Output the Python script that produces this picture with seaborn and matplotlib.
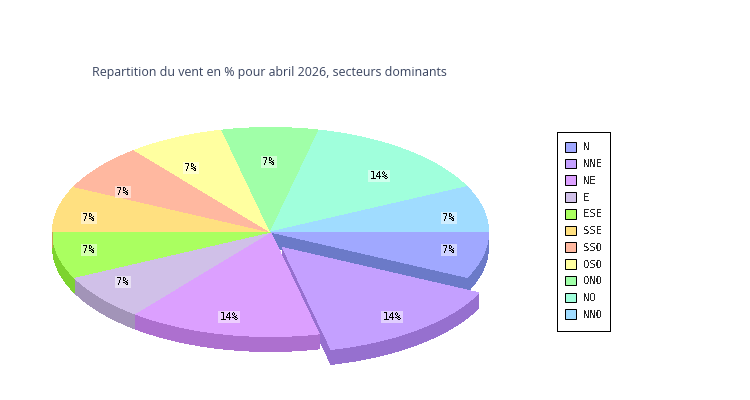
import numpy as np
import matplotlib
matplotlib.use('Agg')
import matplotlib.pyplot as plt
from matplotlib.patches import Patch, Rectangle
import seaborn as sns

# donnees du graphique
secteurs = ['N', 'NNE', 'NE', 'E', 'ESE', 'SSE', 'SSO', 'OSO', 'ONO', 'NO', 'NNO']
valeurs = [7, 14, 14, 7, 7, 7, 7, 7, 7, 14, 7]
titre = 'Repartition du vent en % pour abril 2026, secteurs dominants'

couleurs = ['#a0a8ff', '#c4a0ff', '#dca0ff', '#d0c0e8', '#aaff60', '#ffe080',
            '#ffb8a0', '#ffffa0', '#a0ffa8', '#a0ffdc', '#a0dcff']
couleurs_bord = ['#6b7ac8', '#9670cf', '#ad70cf', '#a294b8', '#7dd32f', '#c8a050',
                 '#c88a70', '#c8c870', '#70c878', '#70c8a8', '#70a8c8']

# geometrie en pixels
cx, cy = 270.5, 232
rx, ry = 218, 104.5
epaisseur = 15
decale = {'NNE': (12, 15.5)}
pos_labels = [(449, 250), (392, 317), (229, 317), (123, 282), (89, 250), (89, 218),
              (123, 192), (191, 168), (269, 162), (379, 176), (449, 218)]

sns.set_theme(style='white')
plt.rcParams['text.antialiased'] = False
palette = sns.color_palette(couleurs)
palette_bord = sns.color_palette(couleurs_bord)

fig = plt.figure(figsize=(7.5, 4), dpi=100)
ax = fig.add_axes([0, 0, 1, 1])
ax.set_xlim(0, 750)
ax.set_ylim(400, 0)
ax.axis('off')

fin = np.cumsum(valeurs) / sum(valeurs) * 360
debut = np.concatenate([[0], fin[:-1]])


def point(t, dx=0, dy=0):
    t = np.radians(t)
    return cx + dx + rx * np.cos(t), cy + dy + ry * np.sin(t)


# faces coupees : N (vers NNE) et fin de NNE
for i in [0, 1]:
    dx, dy = decale.get(secteurs[i], (0, 0))
    px, py = point(fin[i], dx, dy)
    ax.fill([cx + dx, px, px, cx + dx],
            [cy + dy, py, py + epaisseur, cy + dy + epaisseur],
            color=palette_bord[i], lw=0, antialiased=False)

# bords exterieurs, seulement la moitie avant
for i, nom in enumerate(secteurs):
    a, b = max(debut[i], 0), min(fin[i], 180)
    if b <= a:
        continue
    dx, dy = decale.get(nom, (0, 0))
    t = np.linspace(a, b, 80)
    px, py = point(t, dx, dy)
    ax.fill(np.r_[px, px[::-1]], np.r_[py, py[::-1] + epaisseur],
            color=palette_bord[i], lw=0, antialiased=False)

# petit trait du SSE a gauche
ax.plot([cx - rx - 0.5] * 2, [cy, cy + epaisseur], color=palette_bord[5], lw=0.72, antialiased=False)

# dessus des parts
for i, nom in enumerate(secteurs):
    dx, dy = decale.get(nom, (0, 0))
    t = np.linspace(debut[i], fin[i], 120)
    px, py = point(t, dx, dy)
    ax.fill(np.r_[cx + dx, px], np.r_[cy + dy, py], color=palette[i], lw=0, antialiased=False)

# etiquettes
for v, (x, y) in zip(valeurs, pos_labels):
    ax.text(x, y, f'{v}%', ha='center', va='center', fontsize=7.6, family='DejaVu Sans Mono',
            color='black', bbox=dict(facecolor='white', alpha=0.5, edgecolor='none', pad=1.0))

t = ax.text(92, 72.5, titre, ha='left', va='center', fontsize=8.95, family='Open Sans', color='#3a4560')
t.set_antialiased(True)

# legende : cadre dessine a part pour garder la taille exacte
ax.add_patch(Rectangle((557, 132), 53, 199, facecolor='white', edgecolor='black',
                       lw=0.72, antialiased=False, zorder=3))
poignees = [Patch(facecolor=c, edgecolor='black', lw=0.72) for c in palette]
leg = ax.legend(poignees, secteurs, loc='upper left', bbox_to_anchor=(565, 142),
                bbox_transform=ax.transData, borderaxespad=0, frameon=False,
                handlelength=1.02, handleheight=1.02, handletextpad=0.72,
                labelspacing=0.6, borderpad=0,
                prop={'family': 'DejaVu Sans Mono', 'size': 7.6})
leg.set_zorder(4)

fig.savefig('out.png', dpi=100)
